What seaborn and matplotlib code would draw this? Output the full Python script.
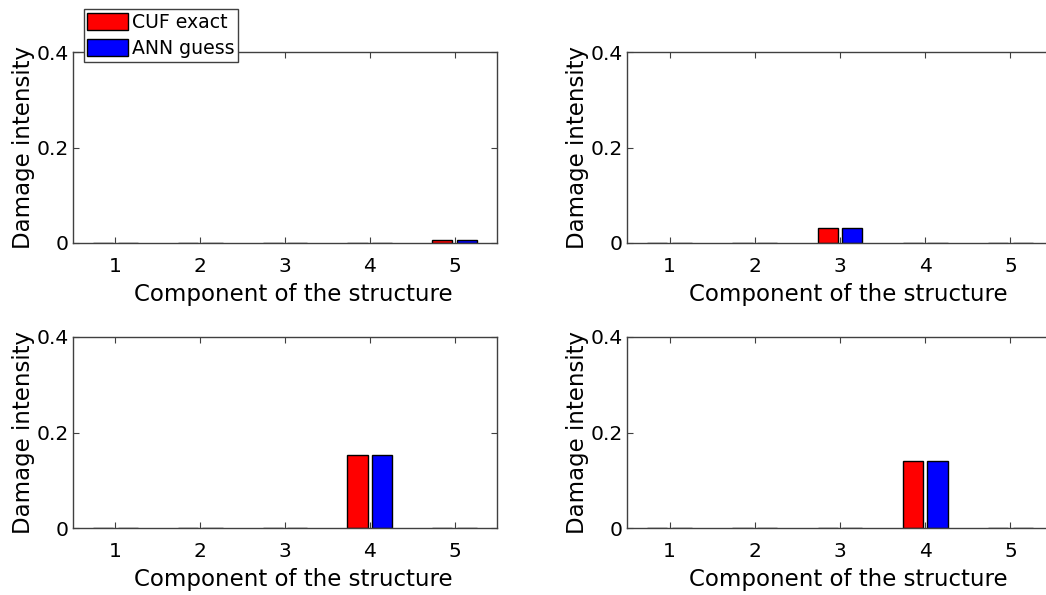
import numpy as np
import pandas as pd
import matplotlib
matplotlib.use("Agg")
import matplotlib.pyplot as plt
import seaborn as sns

# Werte
components = ["1", "2", "3", "4", "5"]
series = ["CUF exact", "ANN guess"]
cuf_exact = [
    [0.0, 0.0, 0.0, 0.0, 0.006],
    [0.0, 0.0, 0.032, 0.0, 0.0],
    [0.0, 0.0, 0.0, 0.152, 0.0],
    [0.0, 0.0, 0.0, 0.141, 0.0],
]
ann_guess = [
    [0.0, 0.0, 0.0, 0.0, 0.006],
    [0.0, 0.0, 0.032, 0.0, 0.0],
    [0.0, 0.0, 0.0, 0.152, 0.0],
    [0.0, 0.0, 0.0, 0.141, 0.0],
]
y_ticks = [0, 0.2, 0.4]
y_ticklabels = ["0", "0.2", "0.4"]

sns.set_style("ticks", {"xtick.direction": "in", "ytick.direction": "in"})
plt.rcParams['font.family'] = ['DejaVu Sans']
plt.rcParams['axes.edgecolor'] = '#404040'
plt.rcParams['axes.labelcolor'] = 'black'
plt.rcParams['text.color'] = 'black'
plt.rcParams['xtick.color'] = '#404040'
plt.rcParams['ytick.color'] = '#404040'
plt.rcParams['xtick.labelcolor'] = 'black'
plt.rcParams['ytick.labelcolor'] = 'black'

fig = plt.figure(figsize=(10.46, 5.95), dpi=100)
W, H = 1046, 595
# Achsen in Pixeln: links, oben, rechts, unten
boxes = [(73, 52, 497, 243), (627, 52, 1053, 243),
         (73, 337, 497, 528), (627, 337, 1053, 528)]

palette = {"CUF exact": "#ff0000", "ANN guess": "#0000ff"}

for i, (l, t, r, b) in enumerate(boxes):
    ax = fig.add_axes([l / W, 1 - b / H, (r - l) / W, (b - t) / H])
    df = pd.DataFrame({
        "component": components * 2,
        "value": cuf_exact[i] + ann_guess[i],
        "series": [series[0]] * 5 + [series[1]] * 5,
    })
    sns.barplot(data=df, x="component", y="value", hue="series", order=components,
                hue_order=series, palette=palette, saturation=1, width=0.58, gap=0.18,
                edgecolor="black", linewidth=1, legend=(i == 0), ax=ax)
    ax.set_xlim(-0.5, 4.5)
    ax.set_ylim(0, 0.4)
    ax.set_yticks(y_ticks)
    ax.set_yticklabels(y_ticklabels)
    ax.tick_params(axis="both", which="both", top=True, right=True,
                   length=4, width=0.8, labelsize=14.6)
    ax.tick_params(axis="x", pad=10)
    ax.tick_params(axis="y", pad=3)
    ax.set_xlabel("Component of the structure", fontsize=16.5, labelpad=5)
    ax.xaxis.label.set_x(0.519)
    ax.set_ylabel("Damage intensity", fontsize=16.5, labelpad=1)
    for s in ax.spines.values():
        s.set_linewidth(1.0)
    if i == 0:
        handles, labels = ax.get_legend_handles_labels()
        ax.get_legend().remove()
        leg = fig.legend(handles, labels, loc="upper left",
                         bbox_to_anchor=(83.5 / W, 1 - 9.5 / H),
                         bbox_transform=fig.transFigure, borderaxespad=0,
                         fancybox=False, framealpha=1, edgecolor="#404040",
                         fontsize=13.6, handlelength=2.15, handleheight=1.0,
                         handletextpad=0.2, borderpad=0.2, labelspacing=0.35)
        leg.get_frame().set_linewidth(1.0)

fig.savefig("out.png", dpi=100)
